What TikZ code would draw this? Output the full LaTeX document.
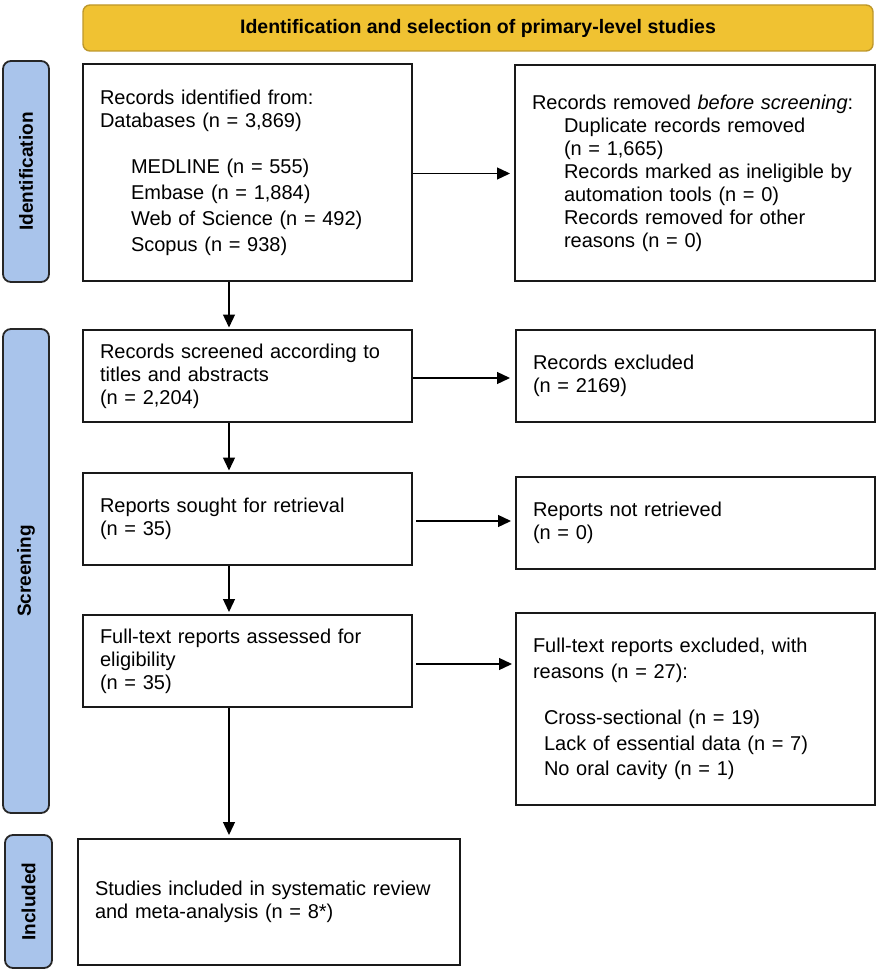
\documentclass[tikz,border=0pt]{standalone}
\usepackage{fontspec}
\setmainfont{Liberation Sans}
\usetikzlibrary{arrows.meta}
\definecolor{hdrfill}{HTML}{F0C232}
\definecolor{hdrline}{HTML}{BE982B}
\definecolor{barfill}{HTML}{A9C4EB}
\tikzset{
  box/.style={draw=black!90, line width=2pt, align=left, inner xsep=17pt, inner ysep=0pt,
    font=\fontsize{20}{23}\selectfont, anchor=center},
  sidebar/.style={draw=black!85, line width=1.8pt, fill=barfill, rounded corners=8pt,
    rotate=90, font=\bfseries\fontsize{19}{22}\selectfont, inner sep=0pt, anchor=center},
  header/.style={draw=hdrline, line width=1.4pt, fill=hdrfill, rounded corners=7pt,
    font=\bfseries\fontsize{19.5}{23}\selectfont, inner sep=0pt, anchor=center},
  arr/.style={line width=1.3pt, -{Triangle[length=13pt,width=12pt]}},
}
\begin{document}
\begin{tikzpicture}[x=1pt,y=-1pt]
\useasboundingbox (0,0) rectangle (878,973);
% header
\node[header, minimum width=790pt, minimum height=46pt] (hdr) at (478,28) {Identification and selection of primary-level studies};
% side bars
\node[sidebar, minimum width=221pt, minimum height=46pt] (bi) at (26,171.5) {Identification};
\node[sidebar, minimum width=484pt, minimum height=46pt] (bs) at (26,571) {Screening};
\node[sidebar, minimum width=133pt, minimum height=47pt] (bn) at (28.5,901.5) {Included};
% boxes
\node[box, text width=295pt, minimum width=329pt, minimum height=217pt] (b1) at (247.5,172.5) {%
Records identified from:\\
Databases (n = 3,869)\\[23pt]
\hspace*{31pt}MEDLINE (n = 555)\\[3pt]
\hspace*{31pt}Embase (n = 1,884)\\[3pt]
\hspace*{31pt}Web of Science (n = 492)\\[3pt]
\hspace*{31pt}Scopus (n = 938)};
\node[box, text width=326pt, minimum width=360pt, minimum height=216pt] (b2) at (695,173) {%
Records removed \textit{before screening}:\\
\hspace*{32pt}Duplicate records removed\\
\hspace*{32pt}(n = 1,665)\\
\hspace*{32pt}Records marked as ineligible by\\
\hspace*{32pt}automation tools (n = 0)\\
\hspace*{32pt}Records removed for other\\
\hspace*{32pt}reasons (n = 0)};
\node[box, text width=295pt, minimum width=329pt, minimum height=92pt] (b3) at (247.5,376) {%
Records screened according to\\
titles and abstracts\\
(n = 2,204)};
\node[box, text width=325pt, minimum width=359pt, minimum height=92pt] (b4) at (695.5,376) {%
Records excluded\\
(n = 2169)};
\node[box, text width=295pt, minimum width=329pt, minimum height=92pt] (b5) at (247.5,519) {%
Reports sought for retrieval\\
(n = 35)};
\node[box, text width=325pt, minimum width=359pt, minimum height=92pt] (b6) at (695.5,523) {%
Reports not retrieved\\
(n = 0)};
\node[box, text width=295pt, minimum width=329pt, minimum height=92pt] (b7) at (247.5,661) {%
Full-text reports assessed for\\
eligibility\\
(n = 35)};
\node[box, text width=325pt, minimum width=359pt, minimum height=192pt] (b8) at (695.5,709) {%
Full-text reports excluded, with\\[3pt]
reasons (n = 27):\\[23pt]
\hspace*{11pt}Cross-sectional (n = 19)\\[3pt]
\hspace*{11pt}Lack of essential data (n = 7)\\[2pt]
\hspace*{11pt}No oral cavity (n = 1)};
\node[box, text width=348pt, minimum width=382pt, minimum height=126pt] (b9) at (269,902) {%
Studies included in systematic review\\
and meta-analysis (n = 8*)};
% arrows
\coordinate (ax) at (229,0);
\draw[arr, shorten >=4pt] ([yshift=-1pt]b1.east) -- ([yshift=-1pt]b1.east -| b2.west);
\draw[arr, shorten >=5pt] ([yshift=-2pt]b3.east) -- ([yshift=-2pt]b3.east -| b4.west);
\draw[arr, shorten >=4pt, shorten <=3pt] ([yshift=-2pt]b5.east) -- ([yshift=-2pt]b5.east -| b6.west);
\draw[arr, shorten >=3pt, shorten <=3pt] ([yshift=-3pt]b7.east) -- ([yshift=-3pt]b7.east -| b8.west);
\draw[arr, shorten >=1.5pt] (b1.south -| ax) -- (b3.north -| ax);
\draw[arr, shorten >=1.5pt] (b3.south -| ax) -- (b5.north -| ax);
\draw[arr, shorten >=2pt] (b5.south -| ax) -- (b7.north -| ax);
\draw[arr, shorten >=3pt] (b7.south -| ax) -- (b9.north -| ax);
\end{tikzpicture}
\end{document}
